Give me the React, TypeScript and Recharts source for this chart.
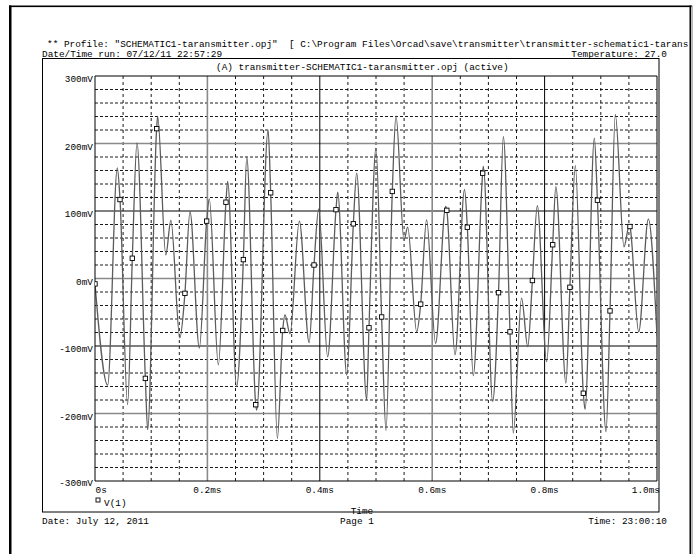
import React from 'react';
import {
  LineChart,
  Line,
  XAxis,
  YAxis,
  CartesianGrid,
  ReferenceLine,
} from 'recharts';

// waveform turning points (time in ms, V(1) in mV)
const peakTimes = [
  0.0225, 0.0397, 0.058, 0.0747, 0.0937, 0.1115, 0.126, 0.135, 0.151, 0.169,
  0.1857, 0.2034, 0.2195, 0.236, 0.252, 0.27, 0.2877, 0.308, 0.3245, 0.338,
  0.347, 0.3636, 0.381, 0.398, 0.414, 0.4318, 0.448, 0.4656, 0.4834, 0.5,
  0.5178, 0.5356, 0.5498, 0.5564, 0.5724, 0.59, 0.606, 0.624, 0.6406, 0.6575,
  0.673, 0.691, 0.7076, 0.7266, 0.7443, 0.759, 0.77, 0.787, 0.8037, 0.82,
  0.838, 0.8547, 0.872, 0.8885, 0.9093, 0.9258, 0.9413, 0.9508, 0.9674, 0.9846,
  1.0,
];
const peakValues = [
  -158, 164, -187, 201, -224, 240, 35, 86, -88, 99,
  -103, 118, -128, 144, -160, 180, -195, 220, -237, -54,
  -82, 85, -95, 103, -116, 128, -143, 156, -180, 193,
  -225, 241, 57, 76, -79, 87, -96, 107, -113, 132,
  -144, 166, -182, 210, -229, -29, -101, 108, -123, 136,
  -155, 167, -194, 208, -227, 243, 47, 79, -79, 88,
  -86,
];

// points carrying the square V(1) markers
const markerTimes = [
  0, 0.0445, 0.0664, 0.0896, 0.1097, 0.16, 0.1987, 0.233, 0.264, 0.286,
  0.3126, 0.334, 0.3897, 0.4288, 0.4597, 0.4875, 0.51, 0.529, 0.5795, 0.626,
  0.6625, 0.6898, 0.718, 0.7384, 0.7783, 0.8144, 0.845, 0.8689, 0.894, 0.9164,
  0.9519,
];
const markerValues = [
  -8, 117, 30, -148, 222, -22, 85, 113, 28, -187,
  127, -77, 20, 102, 81, -73, -57, 129, -38, 101,
  76, 156, -21, -79, -3, 50, -13, -170, 116, -48,
  77,
];

const xTicks = [0, 0.2, 0.4, 0.6, 0.8, 1.0];
const xTickLabels = ['0s', '0.2ms', '0.4ms', '0.6ms', '0.8ms', '1.0ms'];
const yTicks = [-300, -200, -100, 0, 100, 200, 300];
const yTickLabels = ['-300mV', '-200mV', '-100mV', '0mV', '100mV', '200mV', '300mV'];

const minorY = [
  -280, -260, -240, -220, -180, -160, -140, -120, -80, -60, -40, -20,
  20, 40, 60, 80, 120, 140, 160, 180, 220, 240, 260, 280,
];
const minorX = [
  0.05, 0.1, 0.15, 0.25, 0.3, 0.35, 0.45, 0.5, 0.55, 0.65, 0.7, 0.75, 0.85, 0.9, 0.95,
];

const data = [
  ...peakTimes.map((t, i) => ({ t, v: peakValues[i], m: false })),
  ...markerTimes.map((t, i) => ({ t, v: markerValues[i], m: true })),
].sort((a, b) => a.t - b.t);

const FONT = '"Liberation Mono", "DejaVu Sans Mono", monospace';
const FS = 9.4;

const XTick = ({ x, y, payload }: any) => {
  const label = xTickLabels[xTicks.indexOf(payload.value)];
  let anchor: 'start' | 'middle' | 'end' = 'middle';
  let px = x;
  if (payload.value === 0) {
    anchor = 'start';
    px = x + 0.5;
  }
  if (payload.value === 1) {
    anchor = 'end';
    px = x + 3;
  }
  return (
    <text x={px} y={y + 12} textAnchor={anchor} fontFamily={FONT} fontSize={FS} fill="#000">
      {label}
    </text>
  );
};

const YTick = ({ x, y, payload }: any) => (
  <text
    x={x - 2}
    y={y + (payload.value === -300 ? 5 : 6)}
    textAnchor="end"
    fontFamily={FONT}
    fontSize={FS}
    fill="#000"
  >
    {yTickLabels[yTicks.indexOf(payload.value)]}
  </text>
);

const renderMarker = (props: any) => {
  const { cx, cy, payload, index } = props;
  if (!payload.m) return <g key={index} />;
  return (
    <rect
      key={index}
      x={cx - 2.2}
      y={cy - 2.2}
      width={4.4}
      height={4.4}
      fill="#fff"
      stroke="#000"
      strokeWidth={0.9}
    />
  );
};

const txt = (x: number, y: number, s: string, anchor: any = 'start') => (
  <text
    x={x}
    y={y}
    fontFamily={FONT}
    fontSize={FS}
    fill="#000"
    textAnchor={anchor}
    style={{ whiteSpace: 'pre' }}
  >
    {s}
  </text>
);

export default function App() {
  return (
    <div style={{ position: 'absolute', left: 0, top: 0, width: 700, height: 554, background: '#fff' }}>
      <LineChart
        width={700}
        height={554}
        data={data}
        margin={{ top: 76, right: 43, bottom: 72, left: 94 }}
      >
        <CartesianGrid
          horizontal={false}
          verticalValues={minorX}
          stroke="#000"
          strokeDasharray="3 3"
          strokeWidth={0.9}
        />
        <CartesianGrid
          vertical={false}
          horizontalValues={minorY}
          stroke="#000"
          strokeDasharray="3 2"
          strokeWidth={0.9}
        />
        <XAxis
          dataKey="t"
          type="number"
          domain={[0, 1]}
          ticks={xTicks}
          height={1}
          tickSize={0}
          tickMargin={0}
          tickLine={false}
          tick={(p: any) => <XTick {...p} />}
          axisLine={{ stroke: '#000' }}
          interval={0}
          allowDataOverflow
        />
        <YAxis
          type="number"
          domain={[-300, 300]}
          ticks={yTicks}
          width={1}
          tickSize={0}
          tickMargin={0}
          tickLine={false}
          tick={(p: any) => <YTick {...p} />}
          axisLine={{ stroke: '#000' }}
          interval={0}
          allowDataOverflow
        />
        <ReferenceLine y={200} stroke="#8a8a8a" strokeWidth={1.6} />
        <ReferenceLine y={100} stroke="#000" strokeWidth={1} />
        <ReferenceLine y={0} stroke="#8a8a8a" strokeWidth={1.6} />
        <ReferenceLine y={-100} stroke="#000" strokeWidth={1} />
        <ReferenceLine y={-200} stroke="#8a8a8a" strokeWidth={1.6} />
        <ReferenceLine x={0.2} stroke="#8a8a8a" strokeWidth={1.6} />
        <ReferenceLine x={0.4} stroke="#000" strokeWidth={1} />
        <ReferenceLine x={0.6} stroke="#8a8a8a" strokeWidth={1.6} />
        <ReferenceLine x={0.8} stroke="#000" strokeWidth={1} />
        <ReferenceLine y={300} stroke="#000" strokeWidth={1} ifOverflow="visible" />
        <ReferenceLine x={1} stroke="#000" strokeWidth={1} ifOverflow="visible" />
        <Line
          dataKey="v"
          type="monotone"
          stroke="#5c5c5c"
          strokeWidth={1.3}
          dot={renderMarker}
          activeDot={false}
          isAnimationActive={false}
        />
      </LineChart>
      <svg
        width={700}
        height={554}
        style={{ position: 'absolute', left: 0, top: 0, pointerEvents: 'none' }}
      >
        {/* page frame */}
        <rect x={9} y={5.5} width={2.5} height={549} fill="#000" />
        <rect x={9} y={5.5} width={683} height={1.6} fill="#000" />
        <rect x={689.5} y={5.5} width={1.6} height={549} fill="#000" />
        <rect x={691.5} y={5.5} width={1.2} height={549} fill="#999" />
        {/* header */}
        {txt(47, 46.5, '** Profile: "SCHEMATIC1-taransmitter.opj"  [ C:\\Program Files\\Orcad\\save\\transmitter\\transmitter-schematic1-tarans')}
        {txt(42, 57, 'Date/Time run: 07/12/11 22:57:29')}
        {txt(667, 57, 'Temperature: 27.0', 'end')}
        {/* plot box */}
        <rect x={42.5} y={58.5} width={616.5} height={453.5} fill="none" stroke="#000" strokeWidth={1} />
        {txt(216, 70, '(A) transmitter-SCHEMATIC1-taransmitter.opj (active)')}
        {/* legend */}
        <rect x={96} y={498} width={4} height={4} fill="#fff" stroke="#000" strokeWidth={0.9} />
        {txt(104, 506, 'V(1)')}
        {txt(362, 514, 'Time', 'middle')}
        {/* footer */}
        {txt(42, 524, 'Date: July 12, 2011')}
        {txt(340, 524, 'Page 1')}
        {txt(667, 524, 'Time: 23:00:10', 'end')}
      </svg>
    </div>
  );
}
